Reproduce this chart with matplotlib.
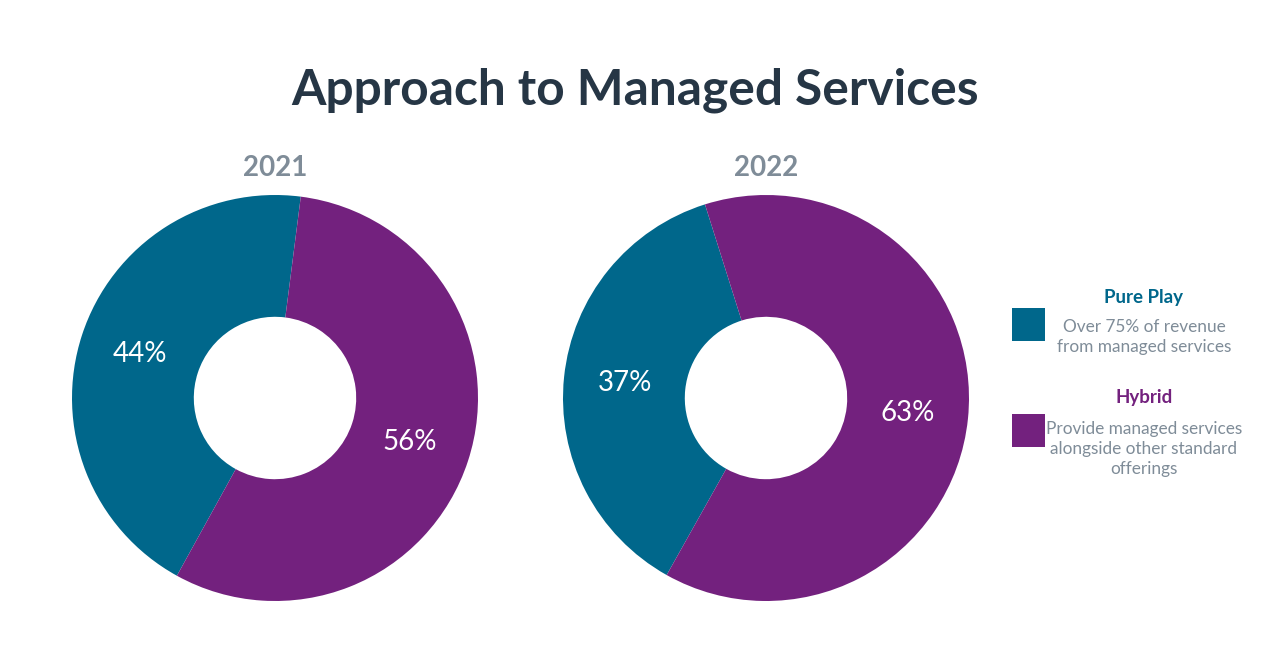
import matplotlib
matplotlib.use("Agg")
import matplotlib.pyplot as plt
from matplotlib.patches import Rectangle

plt.rcParams['font.family'] = ['Lato', 'DejaVu Sans']

title = "Approach to Managed Services"
years = ["2021", "2022"]
categories = ["Pure Play", "Hybrid"]
descriptions = ["Over 75% of revenue\nfrom managed services",
                "Provide managed services\nalongside other standard\nofferings"]
values_2021 = [44, 56]
values_2022 = [37, 63]
start_angles = [82.7, 107.5]

teal = "#00678B"
purple = "#73217E"
gray = "#7F8C98"
dark = "#263645"

W, H = 1280, 650
fig = plt.figure(figsize=(W / 100, H / 100), dpi=100)
fig.patch.set_facecolor("white")

def px_axes(cx, cy, r):
    return fig.add_axes([(cx - r) / W, 1 - (cy + r) / H, 2 * r / W, 2 * r / H])

centers = [(275, 398), (766, 398)]
radius = 203
for (cx, cy), year, vals, sa in zip(centers, years, [values_2021, values_2022], start_angles):
    ax = px_axes(cx, cy, radius)
    wedges, texts, autotexts = ax.pie(
        vals, colors=[teal, purple], startangle=sa, counterclock=True,
        radius=1.0, wedgeprops=dict(width=0.6, edgecolor="white", linewidth=0),
        autopct=lambda p: f"{p:.0f}%", pctdistance=0.7,
        textprops=dict(color="white", fontsize=20))
    ax.set_xlim(-1, 1)
    ax.set_ylim(-1, 1)
    ax.set_aspect("equal")
    ax.axis("off")
    fig.text(cx / W, 1 - 168 / H, year, ha="center", va="center",
             fontsize=20, fontweight="bold", color=gray)

fig.text(635 / W, 1 - 90 / H, title, ha="center", va="center",
         fontsize=35.7, fontweight="bold", color=dark)

# Legend
leg_colors = [teal, purple]
sq_y = [308, 414]
title_y = [298, 398]
desc_y = [337, 449]
for cat, desc, col, sy, ty, dy in zip(categories, descriptions, leg_colors, sq_y, title_y, desc_y):
    fig.patches.append(Rectangle((1012 / W, 1 - (sy + 33) / H), 33 / W, 33 / H,
                                 transform=fig.transFigure, facecolor=col, edgecolor="none"))
    fig.text(1144 / W, 1 - ty / H, cat, ha="center", va="center",
             fontsize=13.5, fontweight="bold", color=col)
    fig.text(1144 / W, 1 - dy / H, desc, ha="center", va="center",
             fontsize=12.4, color=gray, linespacing=1.3)

fig.savefig("out.png", dpi=100, facecolor="white")
